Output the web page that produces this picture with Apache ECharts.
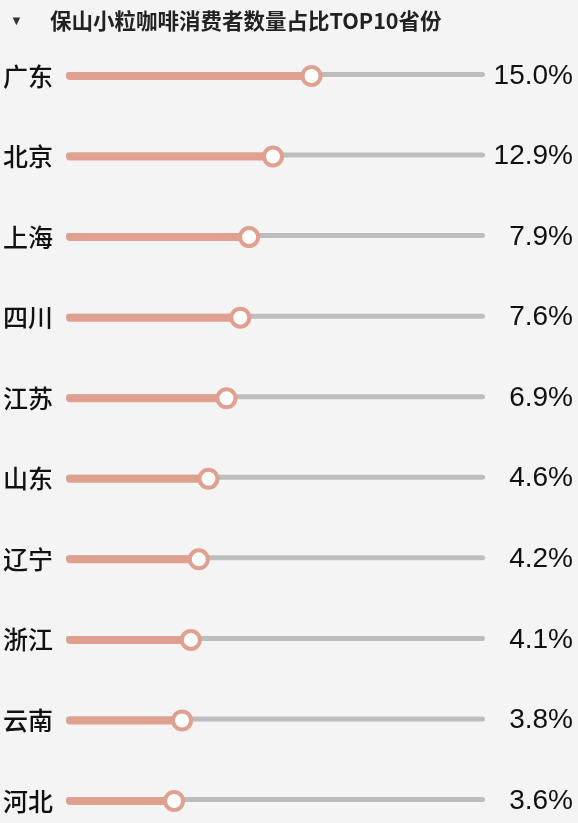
<!DOCTYPE html>
<html>
<head>
<meta charset="utf-8">
<script src="https://cdn.jsdelivr.net/npm/echarts@6/dist/echarts.min.js"></script>
<style>
html,body{margin:0;padding:0;background:#f5f4f4;}
#chart{width:578px;height:823px;}
</style>
</head>
<body>
<div id="chart"></div>
<script>
// Data
var titleText = '保山小粒咖啡消费者数量占比TOP10省份';
var provinces = ['广东','北京','上海','四川','江苏','山东','辽宁','浙江','云南','河北'];
var shareLabels = ['15.0%','12.9%','7.9%','7.6%','6.9%','4.6%','4.2%','4.1%','3.8%','3.6%'];
// displayed bar length, as % of the full track
var barLength = [58.6, 49.4, 43.7, 41.6, 38.3, 34.0, 31.7, 29.8, 27.7, 25.8];
var trackFull = [100,100,100,100,100,100,100,100,100,100];

var salmon = '#dfa08f';
var chart = echarts.init(document.getElementById('chart'));
chart.setOption({
  backgroundColor: '#f5f4f4',
  animation: false,
  graphic: [
    {type:'text', left: 10, top: 15, style:{text:'▼', fontSize: 13, fill:'#333'}},
    {type:'text', left: 50, top: 10, style:{text: titleText, fontSize: 21.5, fontWeight:'bold', fill:'#222', fontFamily:'Noto Sans CJK SC'}}
  ],
  grid: {left: 61, right: 93, top: 76, bottom: 22, containLabel: false},
  xAxis: {type:'value', min:0, max:100, show:false},
  yAxis: [
    {type:'category', data: provinces, inverse:true, boundaryGap:false,
     axisLine:{show:false}, axisTick:{show:false}, splitLine:{show:false},
     axisLabel:{fontSize:25, color:'#111', margin:13, fontFamily:'Noto Sans CJK SC', fontWeight:500}},
    {type:'category', data: shareLabels, inverse:true, position:'right', boundaryGap:false,
     axisLine:{show:false}, axisTick:{show:false}, splitLine:{show:false},
     axisLabel:{fontSize:28, color:'#111', margin:88, align:'right', fontFamily:'Liberation Sans'}}
  ],
  series: [
    {type:'bar', data: trackFull, barWidth:5, barGap:'-100%', silent:true,
     itemStyle:{color:'#bdbdbd', borderRadius:2.5}, z:1},
    {type:'bar', data: barLength, barWidth:8, silent:true,
     itemStyle:{color: salmon, borderRadius:4}, z:2},
    {type:'scatter', data: barLength, symbol:'circle', symbolSize:18, silent:true,
     itemStyle:{color:'#fff', borderColor: salmon, borderWidth:4, opacity:1}, z:3}
  ]
});
</script>
</body>
</html>
